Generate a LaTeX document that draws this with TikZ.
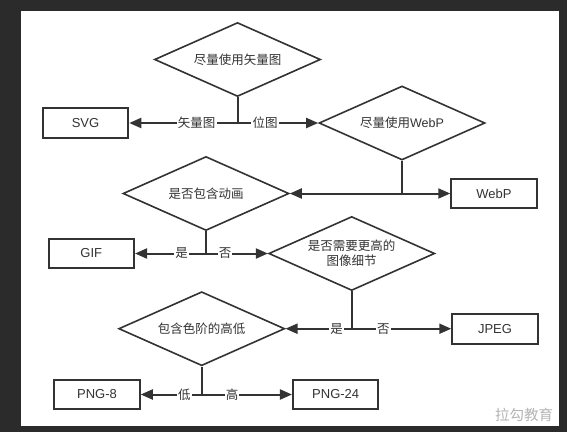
\documentclass[tikz,border=0pt]{standalone}
\usepackage{fontspec}
\setmainfont{Liberation Sans}
\newfontfamily\cjk{Noto Sans CJK SC}
\usetikzlibrary{shapes.geometric,arrows.meta}
\definecolor{ink}{HTML}{333333}
\definecolor{bgdark}{HTML}{2B2B2B}
\definecolor{wm}{HTML}{B4B4B4}
\begin{document}
\begin{tikzpicture}[x=1pt,y=-1pt,
  dec/.style={diamond, aspect=2.25, draw=ink, line width=1.6pt, minimum width=166pt, minimum height=74pt,
    inner sep=0pt, text=ink, align=center, font=\fontsize{12.5}{15}\selectfont},
  res/.style={rectangle, draw=ink, line width=2pt, minimum width=85.5pt, minimum height=29.6pt,
    inner sep=0pt, text=ink, font=\fontsize{13}{15}\selectfont},
  conn/.style={draw=ink, line width=2pt},
  arr/.style={conn, -{Triangle[length=12pt,width=10pt]}},
  lbl/.style={fill=white, inner sep=1.2pt, text=ink, font=\cjk\fontsize{12.5}{15}\selectfont}]
\useasboundingbox (0,0) rectangle (567,432);
\fill[bgdark] (0,0) rectangle (567,432);
\fill[white] (21,10.5) rectangle (559,426);

% nodes
\node[dec] (d1) at (237.5,59.5) {\cjk 尽量使用矢量图};
\node[res] (svg) at (85.5,123) {SVG};
\node[dec] (d2) at (402,123) {{\cjk 尽量使用}WebP};
\node[res] (webp) at (494,193.5) {WebP};
\node[dec] (d3) at (206,193.5) {\cjk 是否包含动画};
\node[res] (gif) at (91.3,253.5) {GIF};
\node[dec] (d4) at (351.7,253.5) {\cjk 是否需要更高的\\\cjk 图像细节};
\node[res] (jpeg) at (495,328.7) {JPEG};
\node[dec] (d5) at (201.7,328.7) {\cjk 包含色阶的高低};
\node[res] (png8) at (97,394.5) {PNG-8};
\node[res] (png24) at (335.7,394.5) {PNG-24};

% junctions
\coordinate (j1) at (d1.south |- svg.east);
\coordinate (j2) at (d2.south |- webp.west);
\coordinate (j3) at (d3.south |- gif.east);
\coordinate (j4) at (d4.south |- jpeg.west);
\coordinate (j5) at (d5.south |- png8.east);

% connectors
\draw[conn] (d1.south) -- (j1);
\draw[arr] (j1) -- (svg.east);
\draw[arr] (j1) -- (d2.west);
\draw[conn] (d2.south) -- (j2);
\draw[arr] (j2) -- (d3.east);
\draw[arr] (j2) -- (webp.west);
\draw[conn] (d3.south) -- (j3);
\draw[arr] (j3) -- (gif.east);
\draw[arr] (j3) -- (d4.west);
\draw[conn] (d4.south) -- (j4);
\draw[arr] (j4) -- (d5.east);
\draw[arr] (j4) -- (jpeg.west);
\draw[conn] (d5.south) -- (j5);
\draw[arr] (j5) -- (png8.east);
\draw[arr] (j5) -- (png24.west);

% edge labels
\node[lbl] (l1a) at (196.7,123) {矢量图};
\node[lbl] (l1b) at (265,123) {位图};
\node[lbl] (l3a) at (181.7,253.5) {是};
\node[lbl] (l3b) at (225,253.5) {否};
\node[lbl] (l4a) at (336.7,328.7) {是};
\node[lbl] (l4b) at (383.3,328.7) {否};
\node[lbl] (l5a) at (184.3,394.5) {低};
\node[lbl] (l5b) at (232,394.5) {高};

% watermark
\node[text=wm, font=\cjk\fontsize{14.5}{16}\selectfont] (wmk) at (524,414.5) {拉勾教育};
\end{tikzpicture}
\end{document}
